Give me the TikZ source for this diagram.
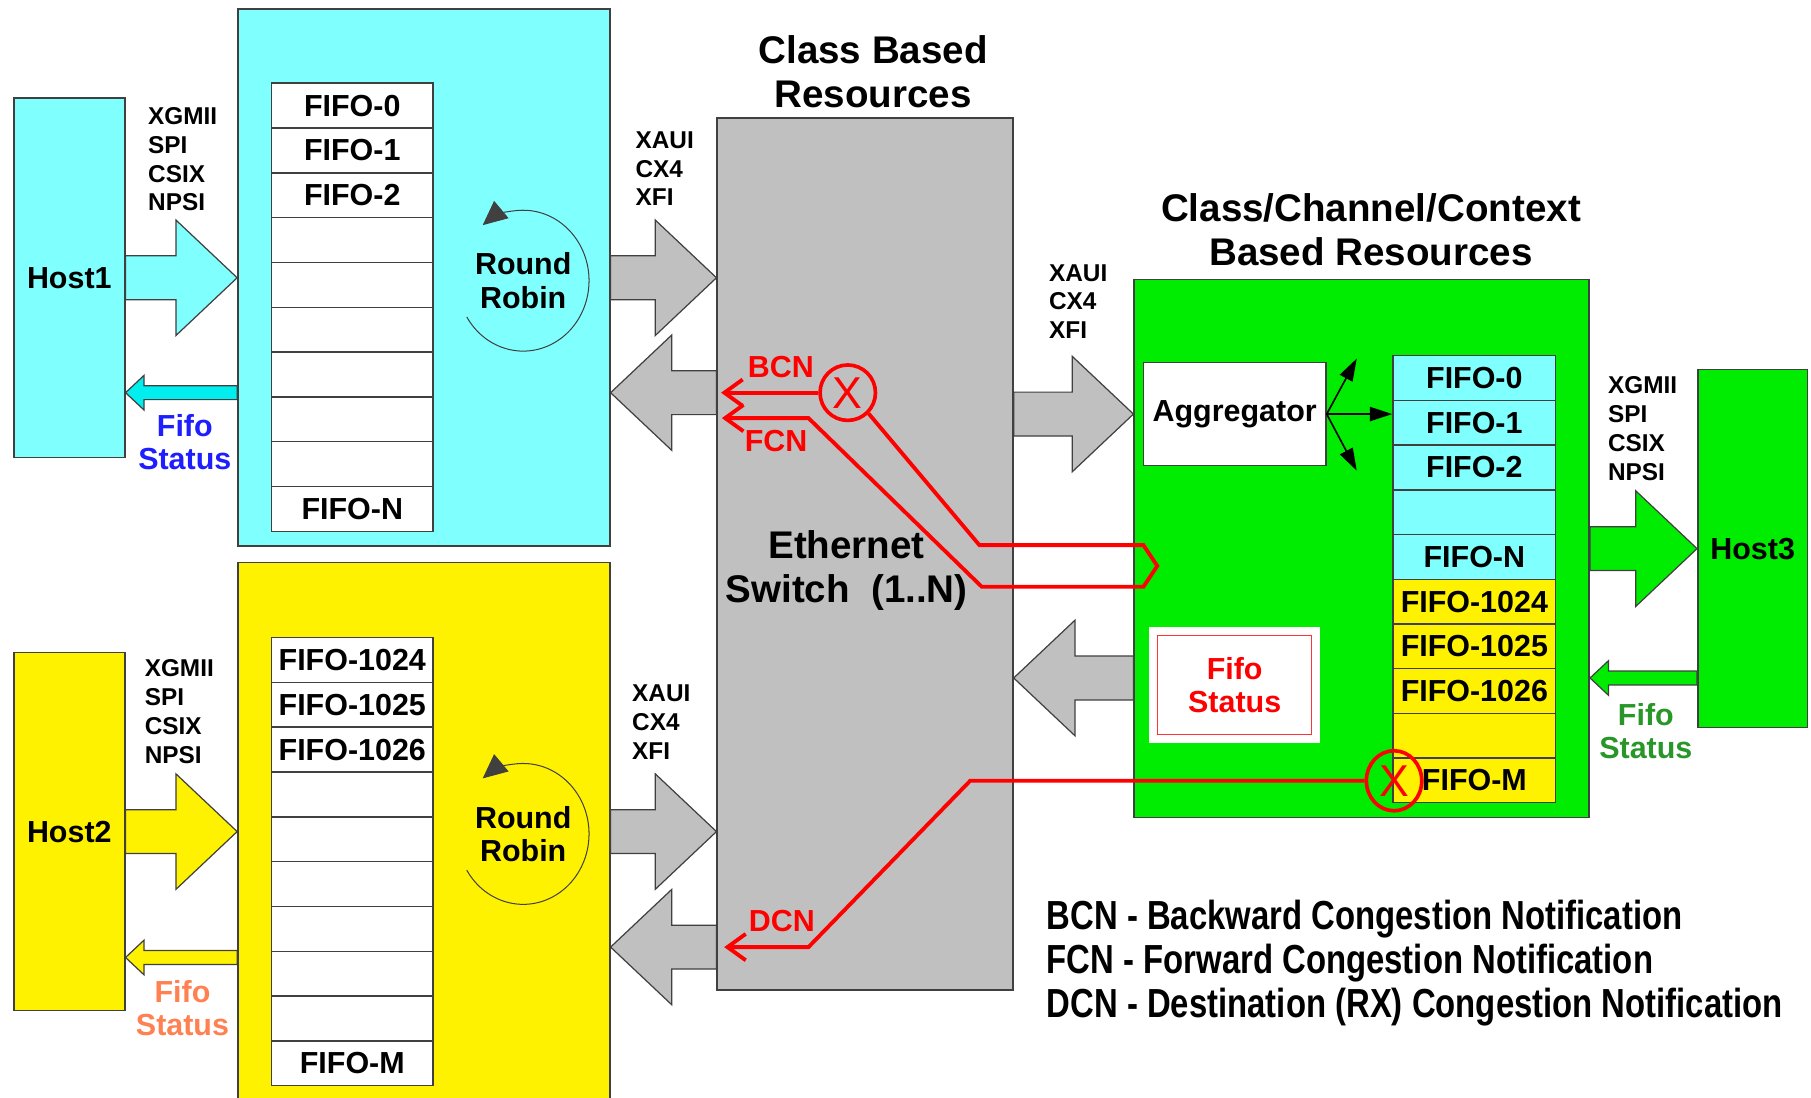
\documentclass[tikz,border=0pt]{standalone}
\usepackage{fontspec}
\setmainfont{Liberation Sans}
\usepackage{graphicx}
\usetikzlibrary{arrows.meta,positioning,shapes.geometric,calc}

\definecolor{cyanbg}{RGB}{128,255,255}
\definecolor{cyanarrow}{RGB}{0,238,238}
\definecolor{switchgray}{RGB}{192,192,192}
\definecolor{boxgreen}{RGB}{0,236,0}
\definecolor{edge}{RGB}{64,64,64}
\definecolor{fsblue}{RGB}{30,30,255}
\definecolor{fsorange}{RGB}{255,128,80}
\definecolor{fsgreen}{RGB}{40,150,40}

% fat outlined arrow: fill, tail, tip, shaft half, head half, head length
\newcommand\fatarrow[6]{%
  \coordinate (fa-b) at ($(#3)!#6!(#2)$);
  \draw[fatline, fill=#1]
    ($(#2)!#4!90:(#3)$) -- ($(fa-b)!#4!90:(#3)$) -- ($(fa-b)!#5!90:(#3)$) -- (#3)
    -- ($(fa-b)!#5!-90:(#3)$) -- ($(fa-b)!#4!-90:(#3)$) -- ($(#2)!#4!-90:(#3)$) -- cycle;}
\newcommand\bigarrow[3]{\fatarrow{#1}{#2}{#3}{0.38cm}{1cm}{1.06cm}}
\newcommand\smallarrow[3]{\fatarrow{#1}{#2}{#3}{0.12cm}{0.3cm}{0.32cm}}

\begin{document}
\begin{tikzpicture}[
  x=0.02cm, y=-0.02cm,
  box/.style={draw=edge, line width=0.8pt, inner sep=0pt, font=\bfseries\fontsize{15}{17}\selectfont},
  cell/.style={draw=edge, line width=0.7pt, fill=white, minimum width=2.8cm, minimum height=0.776cm, inner sep=0pt, font=\bfseries\fontsize{15}{17}\selectfont},
  lbl/.style={align=center, inner sep=0pt, font=\bfseries\fontsize{15}{16.5}\selectfont},
  bus/.style={align=left, anchor=west, inner sep=0pt, font=\bfseries\fontsize{12}{14.2}\selectfont},
  head/.style={align=center, inner sep=0pt, font=\bfseries\fontsize{19}{21.6}\selectfont},
  fatline/.style={draw=edge, line width=0.6pt, line join=miter},
  rrline/.style={draw=edge, line width=0.5pt, -{Triangle[length=12pt, width=11pt]}},
  fan/.style={line width=0.8pt, -{Triangle[length=11pt, width=7pt]}},
  cn/.style={draw=red, line width=1.9pt, line join=miter},
  xmark/.style={circle, draw=red, line width=1.8pt, minimum size=0.96cm, inner sep=0pt, text=red, font=\fontsize{22}{24}\selectfont},
]
  \useasboundingbox (0,0) rectangle (1568,950);
  \fill[white] (0,0) rectangle (1568,950);

  % hosts and buffer blocks
  \node[box, fill=cyanbg, minimum width=1.92cm, minimum height=6.22cm] (host1) at (60,240.5) {Host1};
  \node[box, fill=cyanbg, minimum width=6.44cm, minimum height=9.3cm] (cyan) at (367,240.5) {};
  \node[box, fill=yellow, minimum width=1.92cm, minimum height=6.2cm] (host2) at (60,720) {Host2};
  \node[box, fill=yellow, minimum width=6.44cm, minimum height=9.32cm] (yellowbuf) at (367,720) {};
  \node[box, fill=switchgray, minimum width=5.12cm, minimum height=15.1cm] (switch) at (749,479.5) {};
  \node[box, fill=boxgreen, minimum width=7.88cm, minimum height=9.32cm] (green) at (1179,475) {};
  \node[box, fill=boxgreen, minimum width=1.9cm, minimum height=6.2cm] (host3) at (1517.5,475) {Host3};

  % titles
  \node[head] (title1) at (756,62) {Class Based\\Resources};
  \node[head] (title2) at (1187,199) {Class/Channel/Context\\Based Resources};
  \node[head] (eth) at (733,494) {Ethernet\\Switch\ \ (1..N)};

  % interface labels
  \node[bus] (bus1) at (128,138) {XGMII\\SPI\\CSIX\\NPSI};
  \node[bus] (bus2) at (125,616) {XGMII\\SPI\\CSIX\\NPSI};
  \node[bus] (bus3) at (1392,371) {XGMII\\SPI\\CSIX\\NPSI};
  \node[bus] (xaui1) at (550,146) {XAUI\\CX4\\XFI};
  \node[bus] (xaui2) at (547,625) {XAUI\\CX4\\XFI};
  \node[bus] (xaui3) at (908,261) {XAUI\\CX4\\XFI};

  % fifo columns
  \foreach \fname [count=\i from 0] in {FIFO-0,FIFO-1,FIFO-2,{},{},{},{},{},{},FIFO-N}
    \node[cell] (qa\i) at (305,{91.4+38.8*\i}) {\fname};
  \foreach \fname [count=\i from 0] in {FIFO-1024,FIFO-1025,FIFO-1026,{},{},{},{},{},{},FIFO-M}
    \node[cell] (qb\i) at (305,{571.4+38.8*\i}) {\fname};
  \foreach \fname [count=\i from 0] in {FIFO-0,FIFO-1,FIFO-2,{},FIFO-N,FIFO-1024,FIFO-1025,FIFO-1026,{},FIFO-M} {
    \ifnum\i<5 \def\cellfill{cyanbg}\else\def\cellfill{yellow}\fi
    \node[cell, fill=\cellfill, minimum width=2.82cm, minimum height=0.774cm] (qc\i) at (1276.5,{327.35+38.7*\i}) {\fname};
  }

  % round robin
  \node[lbl] (rr1) at (453,243) {Round\\Robin};
  \node[lbl] (rr2) at (453,722) {Round\\Robin};
  \foreach \r in {rr1,rr2}
    \draw[rrline] ([shift={(211:1.14cm and 1.22cm)}]\r.center) arc[start angle=211, end angle=488, x radius=1.14cm, y radius=1.22cm];

  % aggregator and fifo status
  \node[box, fill=white, minimum width=3.16cm, minimum height=1.78cm] (agg) at (1069,358.5) {Aggregator};
  \coordinate (fanup) at ($(agg.east)+(26,-48)$);
  \coordinate (fandown) at ($(agg.east)+(26,49)$);
  \draw[fan] (agg.east) -- (fanup);
  \draw[fan] (agg.east) -- (agg.east -| qc1.west);
  \draw[fan] (agg.east) -- (fandown);
  \node[fill=white, minimum width=2.96cm, minimum height=2cm] (fsw) at (1069,593) {};
  \node[lbl, draw=red!80, line width=0.5pt, minimum width=2.66cm, minimum height=1.72cm, text=red] (fsr) at (fsw) {Fifo\\Status};

  \node[lbl, text=fsblue] (fs1) at (160,383) {Fifo\\Status};
  \node[lbl, text=fsorange] (fs2) at (158,873) {Fifo\\Status};
  \node[lbl, text=fsgreen] (fs3) at (1425,633) {Fifo\\Status};

  % fat arrows
  \coordinate (yA) at (0,340);
  \coordinate (yB) at (0,820);
  \coordinate (yB2) at (0,829);
  \coordinate (yC) at (0,587);
  \bigarrow{cyanbg}{host1.east}{host1.east -| cyan.west}
  \bigarrow{switchgray}{cyan.east |- host1.east}{switch.west |- host1.east}
  \bigarrow{switchgray}{switch.west |- yA}{cyan.east |- yA}
  \smallarrow{cyanarrow}{cyan.west |- yA}{host1.east |- yA}
  \bigarrow{yellow}{host2.east}{host2.east -| yellowbuf.west}
  \bigarrow{switchgray}{yellowbuf.east |- host2.east}{switch.west |- host2.east}
  \bigarrow{switchgray}{switch.west |- yB}{yellowbuf.east |- yB}
  \smallarrow{yellow}{yellowbuf.west |- yB2}{host2.east |- yB2}
  \bigarrow{switchgray}{switch.east |- agg.west}{green.west |- agg.west}
  \bigarrow{boxgreen}{green.east |- host3.west}{host3.west}
  \smallarrow{boxgreen}{host3.west |- yC}{green.east |- yC}
  \bigarrow{switchgray}{green.west |- yC}{switch.east |- yC}

  % congestion notifications
  \node[lbl, text=red] (bcn) at (676,318) {BCN};
  \node[lbl, text=red] (fcn) at (672,382) {FCN};
  \node[lbl, text=red] (dcn) at (677,797) {DCN};
  \node[xmark] (bx) at (734,340) {X};
  \node[xmark, ellipse, minimum width=0.96cm, minimum height=1.04cm] (dx) at (1207,676) {X};
  \coordinate (bcntip) at ($(switch.west |- bx)+(4,0)$);
  \coordinate (fcntip) at (625,362);
  \coordinate (dcntip) at (627,820);
  \draw[cn, -{Straight Barb[length=9pt, width=13pt]}] (bx) -- (bcntip);
  \draw[cn, {Straight Barb[length=9pt, width=13pt]}-] (fcntip) -- (700,362) -- (850,508) -- (990,508) -- (1002,490) -- (990,472) -- (848,472) -- (bx.-45);
  \draw[cn, -{Straight Barb[length=9pt, width=13pt]}] (dx.west) -- (840,676) -- (700,820) -- (dcntip);

  % legend
  \node[anchor=west, align=left, inner sep=0pt, font=\bfseries\fontsize{20}{21.6}\selectfont] (legend) at (906,834)
    {\scalebox{0.81}[1]{BCN - Backward Congestion Notification}\\
     \scalebox{0.81}[1]{FCN - Forward Congestion Notification}\\
     \scalebox{0.81}[1]{DCN - Destination (RX) Congestion Notification}};
\end{tikzpicture}
\end{document}
